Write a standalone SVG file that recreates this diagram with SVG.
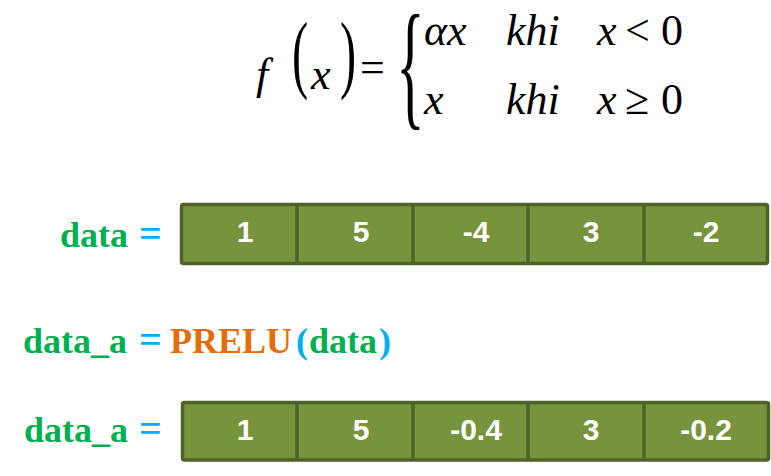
<svg xmlns="http://www.w3.org/2000/svg" width="771" height="476" viewBox="0 0 771 476">
<style>
.m{font-family:"Liberation Serif","Times New Roman",serif;font-size:44px;fill:#000}
.mi{font-style:italic}
.br{font-size:60px}
.lbl{font-family:"Liberation Serif","Times New Roman",serif;font-size:36px;font-weight:bold}
.eq{font-size:40px}
.g{fill:#00B050}
.c{fill:#00B0F0}
.o{fill:#E46C0A}
.box{fill:#77933C;stroke:#4F6228;stroke-width:3.5}
.div{stroke:#4F6228;stroke-width:3.5}
.num{font-family:"Liberation Sans",Arial,sans-serif;font-size:30px;font-weight:bold;fill:#fff;text-anchor:middle}
</style>
<g id="formula">
<text class="m mi" x="256" y="89">f</text>
<text class="m" transform="translate(292,81.5) scale(1.1,1.95)">(</text>
<text class="m mi" x="311" y="89">x</text>
<text class="m" transform="translate(340,81.5) scale(1.1,1.95)">)</text>
<text class="m" x="360" y="82">=</text>
<text class="m br" transform="translate(396,111) scale(1,2.34)">{</text>
<text class="m mi" x="424" y="45">αx</text>
<text class="m mi" x="506" y="45">khi</text>
<text class="m mi" x="597" y="45">x</text>
<text class="m" x="625" y="45">&lt;</text>
<text class="m" x="661" y="45">0</text>
<text class="m mi" x="424" y="114">x</text>
<text class="m mi" x="506" y="114">khi</text>
<text class="m mi" x="597" y="114">x</text>
<text class="m" x="625" y="114">≥</text>
<text class="m" x="661" y="114">0</text>
</g>
<g id="label-data">
<text class="lbl" y="247"><tspan class="g" x="60">data</tspan><tspan class="c eq" x="139">=</tspan></text>
</g>
<g id="array-data">
<rect class="box" x="181.5" y="204.5" width="586" height="59" rx="2"/>
<line class="div" x1="297" y1="204.5" x2="297" y2="263.5"/>
<line class="div" x1="413" y1="204.5" x2="413" y2="263.5"/>
<line class="div" x1="528" y1="204.5" x2="528" y2="263.5"/>
<line class="div" x1="644" y1="204.5" x2="644" y2="263.5"/>
<text class="num" x="245" y="242">1</text>
<text class="num" x="361" y="242">5</text>
<text class="num" x="476" y="242">-4</text>
<text class="num" x="591" y="242">3</text>
<text class="num" x="706" y="242">-2</text>
</g>
<g id="label-prelu">
<text class="lbl" y="353"><tspan class="g" x="23">data_a</tspan><tspan class="c eq" x="139">=</tspan><tspan class="o" x="170">PRELU</tspan><tspan class="c" x="296">(</tspan><tspan class="g" x="309">data</tspan><tspan class="c" x="379">)</tspan></text>
</g>
<g id="label-data-a">
<text class="lbl" y="442"><tspan class="g" x="24">data_a</tspan><tspan class="c eq" x="139">=</tspan></text>
</g>
<g id="array-data-a">
<rect class="box" x="182.5" y="402.5" width="586" height="57.5" rx="2"/>
<line class="div" x1="297" y1="402.5" x2="297" y2="460"/>
<line class="div" x1="413" y1="402.5" x2="413" y2="460"/>
<line class="div" x1="528" y1="402.5" x2="528" y2="460"/>
<line class="div" x1="644" y1="402.5" x2="644" y2="460"/>
<text class="num" x="245" y="440">1</text>
<text class="num" x="361" y="440">5</text>
<text class="num" x="476" y="440">-0.4</text>
<text class="num" x="591" y="440">3</text>
<text class="num" x="706" y="440">-0.2</text>
</g>
</svg>
